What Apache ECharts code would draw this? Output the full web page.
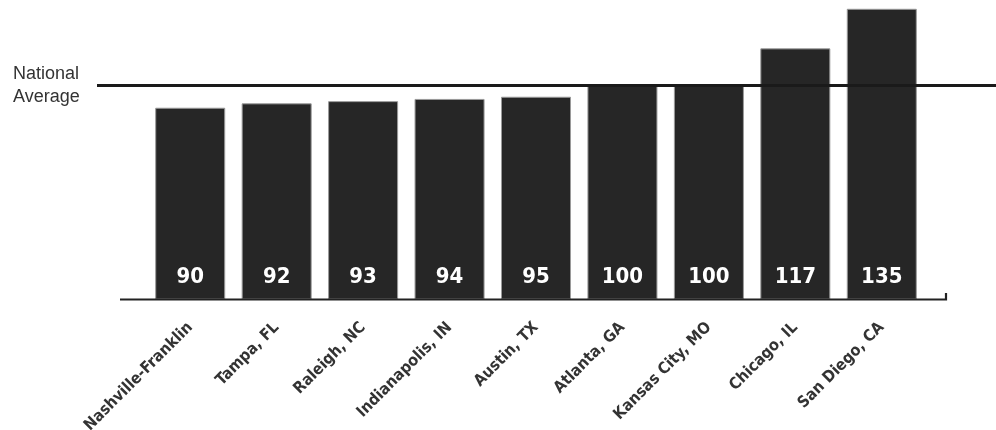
<!DOCTYPE html>
<html>
<head>
<meta charset="utf-8">
<script src="https://cdn.jsdelivr.net/npm/echarts@6/dist/echarts.min.js"></script>
<style>html,body{margin:0;padding:0;background:#fff}#c{width:996px;height:430px}</style>
</head>
<body>
<div id="c"></div>
<script>
const categories = ['Nashville-Franklin','Tampa, FL','Raleigh, NC','Indianapolis, IN','Austin, TX','Atlanta, GA','Kansas City, MO','Chicago, IL','San Diego, CA'];
const values = [90, 92, 93, 94, 95, 100, 100, 117, 135];
const nationalAverage = 100;
const averageLabel = 'National\nAverage';

const narrow = "'Liberation Sans Narrow', 'DejaVu Sans Condensed', 'Roboto Condensed', 'Liberation Sans', sans-serif";
const Y_MIN = 3, Y_MAX = 139;

const chart = echarts.init(document.getElementById('c'), null, {renderer: 'canvas'});
chart.setOption({
  animation: false,
  backgroundColor: '#fff',
  grid: [
    {left: 147, right: 71, top: 0, bottom: 131, containLabel: false, outerBoundsMode: 'none'},
    {left: 97, right: 0, top: 0, bottom: 131, containLabel: false, outerBoundsMode: 'none'}
  ],
  xAxis: [
    {
      type: 'category', gridIndex: 0, data: categories,
      axisLine: {show: false}, axisTick: {show: false},
      axisLabel: {
        rotate: 45, margin: 26, interval: 0,
        fontFamily: narrow, fontWeight: 'bold', fontSize: 16, color: '#333'
      }
    },
    {type: 'value', gridIndex: 1, min: 0, max: 1, show: false}
  ],
  yAxis: [
    {type: 'value', gridIndex: 0, min: Y_MIN, max: Y_MAX, show: false, splitLine: {show: false}},
    {type: 'value', gridIndex: 1, min: Y_MIN, max: Y_MAX, show: false, splitLine: {show: false}}
  ],
  series: [
    {
      type: 'bar', xAxisIndex: 0, yAxisIndex: 0, data: values,
      barCategoryGap: '19%',
      itemStyle: {color: '#262626', borderColor: '#9a9a9a', borderWidth: 1},
      label: {
        show: true, position: 'insideBottom', distance: 11,
        color: '#fff', fontFamily: narrow, fontWeight: 'bold', fontSize: 22
      },
      z: 2
    },
    {
      type: 'line', xAxisIndex: 1, yAxisIndex: 1, data: [], z: 5,
      markLine: {
        silent: true, symbol: ['none', 'none'],
        lineStyle: {color: '#1a1a1a', width: 3, type: 'solid'},
        label: {
          show: true, position: 'start', distance: 12,
          formatter: averageLabel,
          fontFamily: "'Liberation Sans', 'Noto Sans', sans-serif",
          fontSize: 18, lineHeight: 23, color: '#333', align: 'left',
          padding: [0, 0, 18, -72]
        },
        data: [{yAxis: nationalAverage}]
      }
    }
  ],
  graphic: [{
    type: 'polyline', z: 10,
    shape: {points: [[120, 299.5], [946, 299.5], [946, 293]]},
    style: {stroke: '#222', lineWidth: 2.2, fill: null}
  }]
});
</script>
</body>
</html>
